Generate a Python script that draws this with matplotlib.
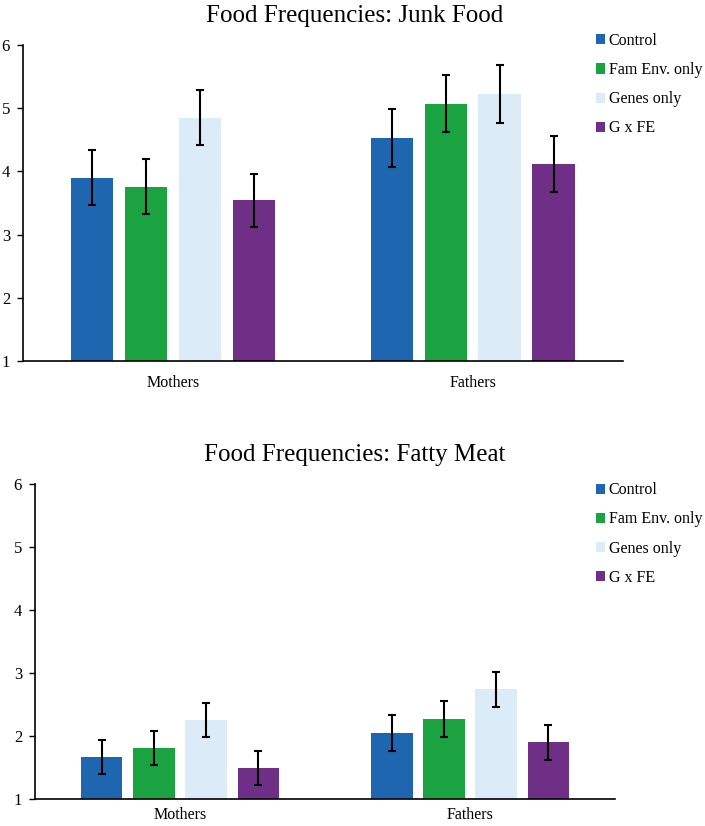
import numpy as np
import matplotlib.pyplot as plt
from matplotlib.patches import Patch

# group labels and series names
groups = ['Mothers', 'Fathers']
series = ['Control', 'Fam Env. only', 'Genes only', 'G x FE']
colors = ['#1F66B0', '#1AA340', '#DCEBF8', '#6F2F87']

# Junk food means and error half-widths (Mothers, Fathers)
junk_control = [3.90, 4.53]
junk_famenv = [3.76, 5.07]
junk_genes = [4.85, 5.23]
junk_gxfe = [3.54, 4.12]
junk_control_err = [0.44, 0.46]
junk_famenv_err = [0.44, 0.45]
junk_genes_err = [0.44, 0.46]
junk_gxfe_err = [0.42, 0.44]

# Fatty meat means and error half-widths
meat_control = [1.67, 2.05]
meat_famenv = [1.81, 2.27]
meat_genes = [2.25, 2.74]
meat_gxfe = [1.49, 1.90]
meat_control_err = [0.27, 0.29]
meat_famenv_err = [0.27, 0.285]
meat_genes_err = [0.27, 0.285]
meat_gxfe_err = [0.27, 0.28]

plt.rcParams['font.family'] = ['Liberation Serif', 'DejaVu Serif']


def draw_panel(fig, rect, values, errors, label_pad):
    ax = fig.add_axes(rect)
    x = np.arange(len(groups))
    width = 0.143
    step = 0.18
    offsets = (np.arange(len(series)) - 1.5) * step
    for i, name in enumerate(series):
        ax.bar(x + offsets[i], values[i], width=width, bottom=0,
               color=colors[i], yerr=errors[i], capsize=3,
               error_kw=dict(elinewidth=1.5, capthick=1.5, ecolor='black'),
               zorder=2)
    ax.set_xlim(-0.5, 1.5)
    ax.set_ylim(1, 6)
    ax.set_yticks([1, 2, 3, 4, 5, 6])
    ax.set_xticks(x)
    ax.set_xticklabels(groups, fontsize=11.5)
    ax.tick_params(axis='x', length=0, pad=label_pad)
    ax.tick_params(axis='y', length=4.3, width=1, direction='out', labelsize=12, pad=5)
    for side in ['top', 'right']:
        ax.spines[side].set_visible(False)
    ax.spines['left'].set_linewidth(1.2)
    ax.spines['bottom'].set_linewidth(1.2)
    return ax


fig = plt.figure(figsize=(7.05, 8.26), dpi=100)

ax1 = draw_panel(fig, [0.0326, 0.563, 0.851, 0.3826],
                 [junk_control, junk_famenv, junk_genes, junk_gxfe],
                 [junk_control_err, junk_famenv_err, junk_genes_err, junk_gxfe_err], 10)
fig.text(0.5035, 0.981, 'Food Frequencies: Junk Food', fontsize=18,
         ha='center', va='center')

ax2 = draw_panel(fig, [0.0496, 0.0327, 0.823, 0.381],
                 [meat_control, meat_famenv, meat_genes, meat_gxfe],
                 [meat_control_err, meat_famenv_err, meat_genes_err, meat_gxfe_err], 6)
fig.text(0.5035, 0.449, 'Food Frequencies: Fatty Meat', fontsize=18,
         ha='center', va='center')

handles = [Patch(facecolor=c, edgecolor='none') for c in colors]
for top in [0.960, 0.416]:
    fig.legend(handles, series, loc='upper left', bbox_to_anchor=(0.845, top),
               frameon=False, fontsize=11.5, handlelength=0.6, handleheight=0.6,
               handletextpad=0.2, labelspacing=0.82, borderaxespad=0, borderpad=0)

fig.savefig('out.png', dpi=100)
